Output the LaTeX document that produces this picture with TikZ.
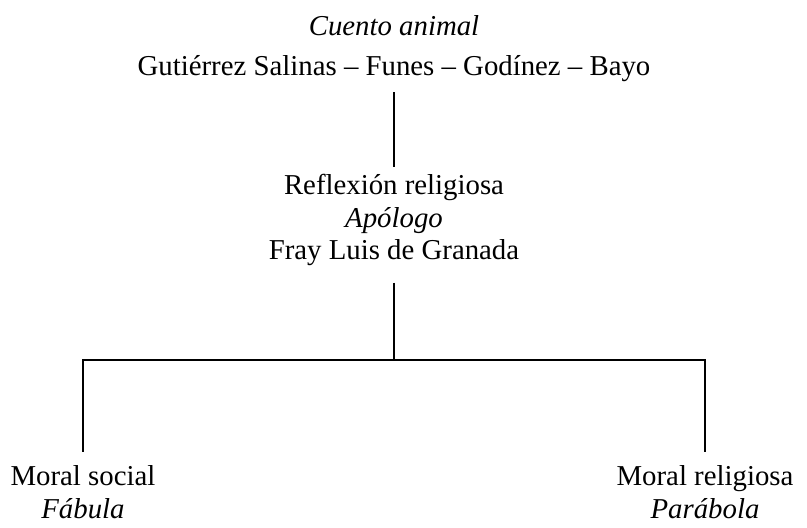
\documentclass[tikz,border=0pt]{standalone}
\usepackage{fontspec}
\setmainfont{Liberation Serif}

\begin{document}
\begin{tikzpicture}
[line width=1pt, level distance=86pt, sibling distance=311pt,
every node/.style = {align=center, inner sep=0pt,
	font=\fontsize{14.4}{16.25}\selectfont},
edge from parent path={([yshift=-4.9pt]\tikzparentnode.south)
	-- ([yshift=3.15pt]\tikzchildnode.north)},
level 2/.style={level distance=136pt,
	edge from parent path={([yshift=-7.9pt]\tikzparentnode.south)
		-- ++(0,-38.5pt) -| ([yshift=6.65pt]\tikzchildnode.north)}},
]
\useasboundingbox (-197pt,24.1pt) rectangle (206.5pt,-239.4pt);
\node (cuento) {\textit{Cuento animal}\\[3.75pt]
	Gutiérrez Salinas – Funes – Godínez – Bayo}
child {node (apologo) {Reflexión religiosa\\
		\textit{Apólogo}\\
		Fray Luis de Granada}
	child {node (fabula) {Moral social\\\textit{Fábula}}}
	child {node (parabola) {Moral religiosa\\\textit{Parábola}}}
};
\end{tikzpicture}
\end{document}
